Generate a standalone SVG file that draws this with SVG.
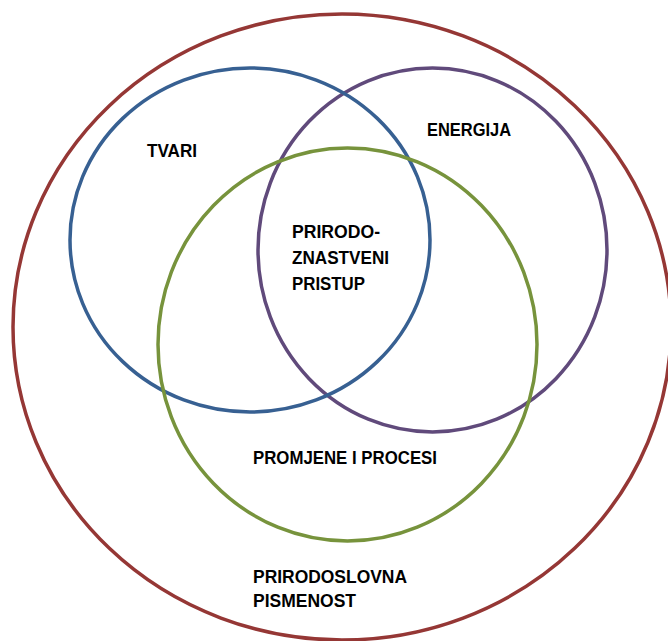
<svg xmlns="http://www.w3.org/2000/svg" width="668" height="641" viewBox="0 0 668 641">
  <style>
    .ring { fill: none; stroke-width: 3.5; }
    .lbl { font-family: "Liberation Sans", Arial, sans-serif; font-weight: bold; font-size: 18px; fill: #000; }
  </style>
  <rect width="668" height="641" fill="#fff"/>
  <g id="pismenost">
    <ellipse class="ring" cx="342" cy="327" rx="329" ry="313" stroke="#953735"/>
    <text class="lbl" x="253" y="583" textLength="154" lengthAdjust="spacingAndGlyphs">PRIRODOSLOVNA</text>
    <text class="lbl" x="253" y="607" textLength="103" lengthAdjust="spacingAndGlyphs">PISMENOST</text>
  </g>
  <g id="energija">
    <ellipse class="ring" cx="432.5" cy="250" rx="174.5" ry="182" stroke="#604A7B"/>
    <text class="lbl" x="427" y="136" textLength="84" lengthAdjust="spacingAndGlyphs">ENERGIJA</text>
  </g>
  <g id="tvari">
    <ellipse class="ring" cx="250" cy="240" rx="180" ry="172" stroke="#376092"/>
    <text class="lbl" x="147" y="157" textLength="50" lengthAdjust="spacingAndGlyphs">TVARI</text>
  </g>
  <g id="promjene">
    <ellipse class="ring" cx="347.5" cy="344.5" rx="189.5" ry="196.5" stroke="#77933C"/>
    <text class="lbl" x="253" y="464" textLength="184" lengthAdjust="spacingAndGlyphs">PROMJENE I PROCESI</text>
  </g>
  <g id="pristup">
    <text class="lbl" x="292" y="238" textLength="88" lengthAdjust="spacingAndGlyphs">PRIRODO-</text>
    <text class="lbl" x="292" y="264" textLength="97" lengthAdjust="spacingAndGlyphs">ZNASTVENI</text>
    <text class="lbl" x="292" y="290" textLength="73" lengthAdjust="spacingAndGlyphs">PRISTUP</text>
  </g>
  <g id="connectors"/>
</svg>
